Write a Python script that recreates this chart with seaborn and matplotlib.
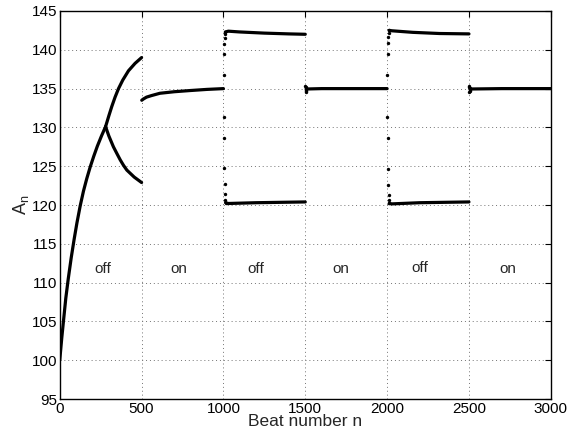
import numpy as np
import pandas as pd
import matplotlib
matplotlib.use("Agg")
import matplotlib.pyplot as plt
import seaborn as sns

# values
# 0-500 (off): single branch, then alternans
rise_n = [0, 12, 23, 37, 52, 70, 88, 105, 125, 145, 165, 186, 208, 230, 255, 280]
rise_A = [100, 102.8, 105.1, 108.0, 110.5, 113.2, 115.6, 117.7, 119.9, 121.8,
          123.4, 124.9, 126.3, 127.6, 128.9, 130.1]
up1_n = [280, 300, 318, 338, 359, 385, 420, 460, 500]
up1_A = [130.1, 131.5, 132.7, 133.9, 135.0, 136.1, 137.3, 138.25, 139.0]
lo1_n = [280, 300, 328, 350, 370, 390, 410, 455, 500]
lo1_A = [130.1, 128.9, 127.5, 126.6, 125.8, 125.1, 124.5, 123.6, 122.9]

# 500-1000 (on)
on1_n = [501, 510, 530, 560, 612, 700, 795, 900, 1000]
on1_A = [133.5, 133.65, 133.9, 134.1, 134.4, 134.6, 134.75, 134.9, 135.0]

# 1000-1500 (off): transient dots, then two plateaus
tr1_n = [1001, 1002, 1003, 1004, 1005, 1006, 1007, 1008, 1009, 1010, 1011, 1012, 1013]
tr1_A = [131.4, 136.8, 128.6, 139.4, 124.8, 140.7, 122.7, 141.5, 121.4, 142.0, 120.7, 142.3, 120.3]
up2_n = [1012, 1030, 1100, 1250, 1400, 1500]
up2_A = [142.3, 142.4, 142.3, 142.15, 142.05, 142.0]
lo2_n = [1013, 1030, 1200, 1500]
lo2_A = [120.3, 120.2, 120.3, 120.4]

# 1500-2000 (on)
tr2_n = [1501, 1502, 1503, 1504, 1505, 1506, 1507]
tr2_A = [135.4, 134.5, 135.25, 134.7, 135.1, 134.85, 135.0]
on2_n = [1506, 1600, 1800, 2000]
on2_A = [134.95, 135.0, 135.0, 135.0]

# 2000-2500 (off)
tr3_n = [2001, 2002, 2003, 2004, 2005, 2006, 2007, 2008, 2009, 2010, 2011, 2012, 2013]
tr3_A = [131.4, 136.8, 128.7, 139.5, 124.6, 140.9, 122.6, 141.6, 121.3, 142.2, 120.7, 142.5, 120.2]
up3_n = [2012, 2030, 2157, 2320, 2500]
up3_A = [142.5, 142.45, 142.25, 142.1, 142.05]
lo3_n = [2013, 2030, 2200, 2500]
lo3_A = [120.2, 120.15, 120.3, 120.4]

# 2500-3000 (on)
tr4_n = [2501, 2502, 2503, 2504, 2505, 2506, 2507]
tr4_A = [135.4, 134.5, 135.25, 134.7, 135.1, 134.85, 135.0]
on3_n = [2506, 2700, 2900, 3000]
on3_A = [134.95, 135.0, 135.0, 135.0]

label_text = ["off", "on", "off", "on", "off", "on"]
label_n = [265, 730, 1200, 1716, 2199, 2735]
label_A = [111.2, 111.2, 111.2, 111.2, 111.4, 111.2]

sns.set_theme(style="white")
plt.rcParams["font.family"] = ["Liberation Sans", "DejaVu Sans"]
plt.rcParams["mathtext.fontset"] = "custom"
plt.rcParams["mathtext.rm"] = "Liberation Sans"
plt.rcParams["mathtext.it"] = "Liberation Sans"

fig = plt.figure(figsize=(5.69, 4.40), dpi=100)
ax = fig.add_axes([0.105, 0.093, 0.863, 0.882])

curves = [(rise_n, rise_A), (up1_n, up1_A), (lo1_n, lo1_A), (on1_n, on1_A),
          (up2_n, up2_A), (lo2_n, lo2_A), (on2_n, on2_A),
          (up3_n, up3_A), (lo3_n, lo3_A), (on3_n, on3_A)]
for xs, ys in curves:
    sns.lineplot(x=xs, y=ys, ax=ax, color="black", linewidth=2.3, sort=False)

dots = pd.DataFrame({"n": tr1_n + tr2_n + tr3_n + tr4_n,
                     "A": tr1_A + tr2_A + tr3_A + tr4_A})
sns.scatterplot(data=dots, x="n", y="A", ax=ax, color="black", s=6, linewidth=0)

for t, xn, ya in zip(label_text, label_n, label_A):
    ax.text(xn, ya, t, ha="center", va="baseline", fontsize=11)

ax.set_xlim(0, 3000)
ax.set_ylim(95, 145)
ax.set_xticks(np.arange(0, 3001, 500))
ax.set_yticks(np.arange(95, 146, 5))
ax.grid(True, linestyle=(0, (1, 3)), color="0.45", linewidth=0.7)
ax.tick_params(direction="in", length=4, width=0.8, top=True, right=True,
               labelsize=11, colors="black", pad=2)
for sp in ax.spines.values():
    sp.set_color("black")
    sp.set_linewidth(1.0)
ax.set_xlabel("Beat number n", fontsize=12.5, labelpad=-1)
ax.set_ylabel(r"$\mathregular{A_n}$", fontsize=13, labelpad=0)

fig.savefig("out.png", dpi=100)
